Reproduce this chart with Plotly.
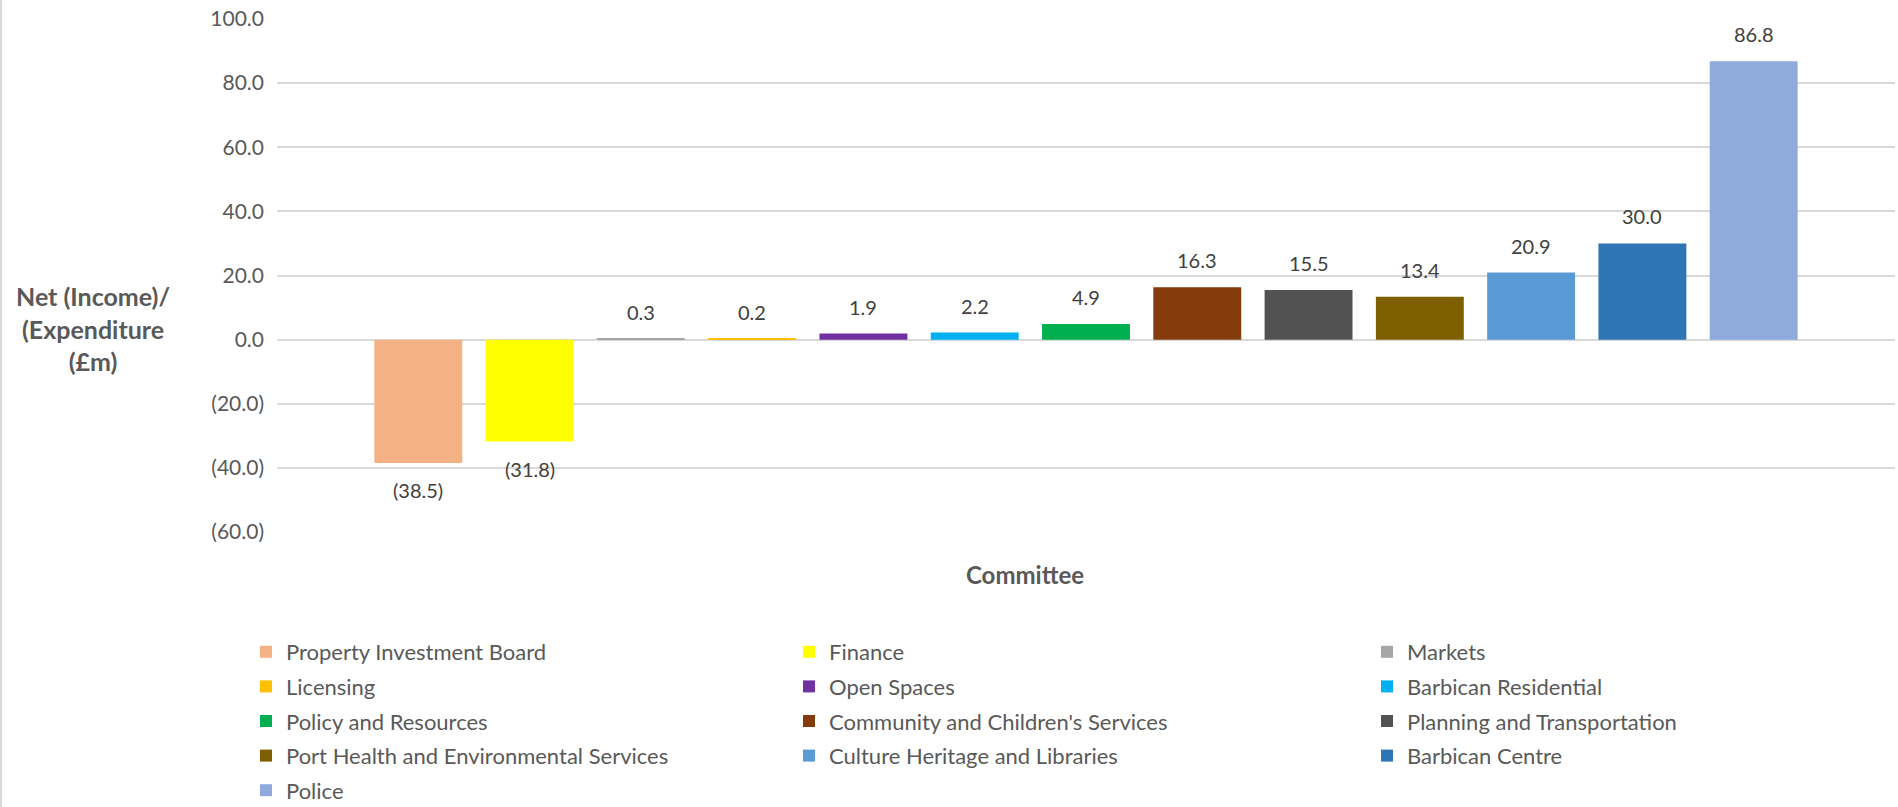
import plotly.graph_objects as go

committees = [
    "Property Investment Board", "Finance", "Markets", "Licensing", "Open Spaces",
    "Barbican Residential", "Policy and Resources", "Community and Children's Services",
    "Planning and Transportation", "Port Health and Environmental Services",
    "Culture Heritage and Libraries", "Barbican Centre", "Police",
]
values = [-38.5, -31.8, 0.3, 0.2, 1.9, 2.2, 4.9, 16.3, 15.5, 13.4, 20.9, 30.0, 86.8]
colors = [
    "#F4B183", "#FFFF00", "#A5A5A5", "#FFC000", "#7030A0", "#00B0F0", "#00B050",
    "#843C0C", "#525252", "#7F6000", "#5B9BD5", "#2E75B6", "#8FAADC",
]
tick_vals = [-60, -40, -20, 0, 20, 40, 60, 80, 100]
tick_text = ["(60.0)", "(40.0)", "(20.0)", "0.0", "20.0", "40.0", "60.0", "80.0", "100.0"]


def fmt(v):
    return f"({abs(v):.1f})" if v < 0 else f"{v:.1f}"


FONT = "Lato"
W, H = 1898, 807
ML, MR, MT, MB = 277, 3, 19, 275
PW = W - ML - MR
PH = H - MT - MB


def px_x(x):
    return (x - ML) / PW


def px_y(y):
    return (MT + PH - y) / PH


legend_ids = ["legend", "legend2", "legend3"]

fig = go.Figure()
for i, (name, v, c) in enumerate(zip(committees, values, colors)):
    fig.add_trace(go.Bar(x=[name], y=[v], name=name, marker=dict(color=c, line=dict(width=0)),
                         width=0.79, legend=legend_ids[i % 3], legendgroup=name))

annotations = []
for name, v in zip(committees, values):
    annotations.append(dict(x=name, y=v, xref="x", yref="y", text=fmt(v), showarrow=False,
                            yshift=27 if v >= 0 else -27,
                            font=dict(family=FONT, size=20, color="#404040")))

# y-axis title (horizontal, Excel-style)
annotations.append(dict(xref="paper", yref="paper", x=px_x(93), y=px_y(328),
                        text="<b>Net (Income)/<br>(Expenditure<br>(£m)</b>", showarrow=False,
                        align="center", xanchor="center", yanchor="middle",
                        font=dict(family=FONT, size=25, color="#595959")))
# x-axis title
annotations.append(dict(xref="paper", yref="paper", x=px_x(1025), y=px_y(574),
                        text="<b>Committee</b>", showarrow=False,
                        xanchor="center", yanchor="middle",
                        font=dict(family=FONT, size=24, color="#595959")))

legend_common = dict(orientation="v", xanchor="left", yanchor="top", y=px_y(631),
                     tracegroupgap=3.0, bgcolor="rgba(0,0,0,0)",
                     font=dict(family=FONT, size=22, color="#595959"),
                     itemclick=False, itemdoubleclick=False)

fig.update_layout(
    width=W, height=H,
    margin=dict(l=ML, r=MR, t=MT, b=MB, autoexpand=False),
    paper_bgcolor="white", plot_bgcolor="white",
    barmode="overlay",
    showlegend=True,
    font=dict(family=FONT, color="#595959"),
    xaxis=dict(type="category", categoryorder="array", categoryarray=committees,
               range=[-1.27, 13.27], showticklabels=False, showgrid=False, zeroline=False,
               showline=False, ticks="", automargin=False),
    yaxis=dict(range=[-60, 100], tickvals=tick_vals, ticktext=tick_text,
               tickfont=dict(family=FONT, size=21, color="#595959"),
               showgrid=True, gridcolor="#D9D9D9", gridwidth=1.5,
               zeroline=True, zerolinecolor="#D9D9D9", zerolinewidth=1.5,
               showline=False, ticks="", ticklabelstandoff=12, automargin=False),
    legend=dict(x=px_x(246), **legend_common),
    legend2=dict(x=px_x(789), **legend_common),
    legend3=dict(x=px_x(1367), **legend_common),
    annotations=annotations,
    shapes=[dict(type="line", xref="paper", yref="paper", x0=px_x(1), x1=px_x(1),
                 y0=px_y(0), y1=px_y(H),
                 line=dict(color="#D9D9D9", width=2))],
)

fig.write_html("out.html")
